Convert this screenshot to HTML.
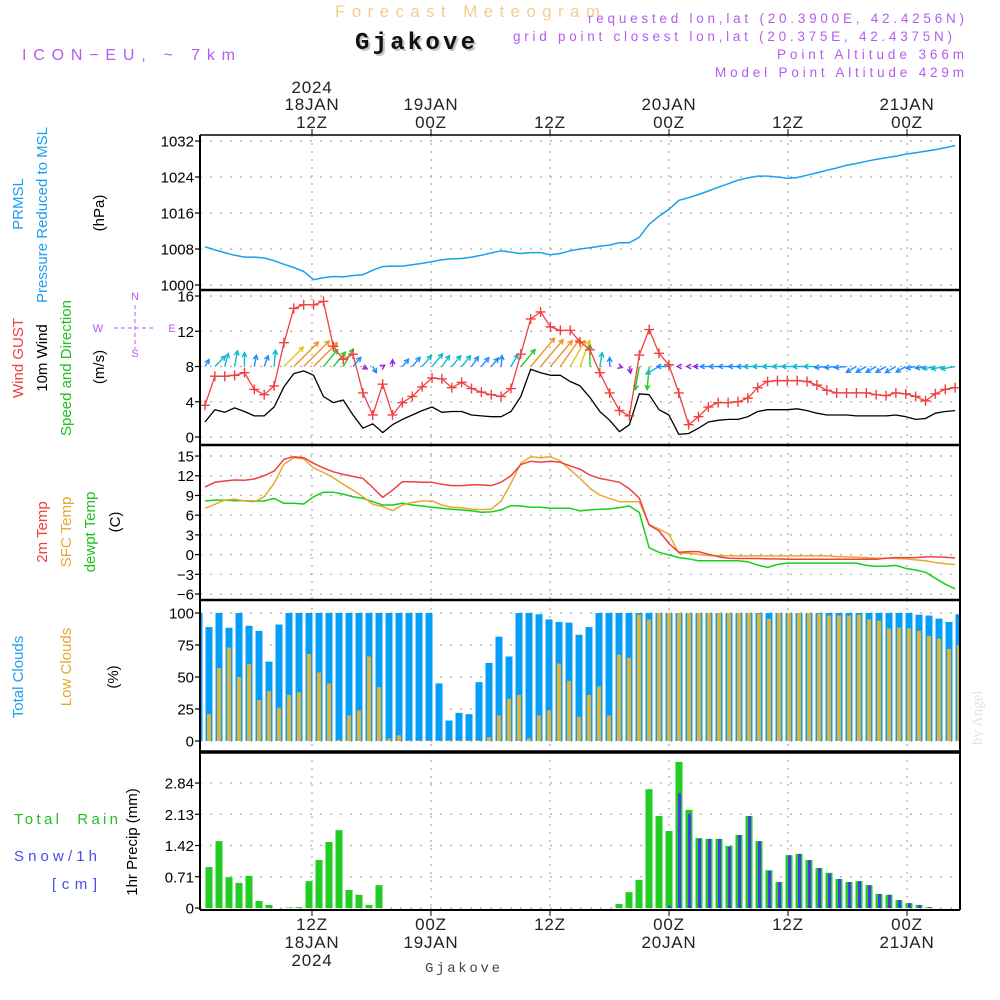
<!DOCTYPE html>
<html><head><meta charset="utf-8"><title>Meteogram Gjakove</title>
<style>
html,body{margin:0;padding:0;background:#fff;}
svg{display:block;font-family:"Liberation Sans",sans-serif;}
</style></head>
<body>
<svg id="chart" width="1000" height="1000" viewBox="0 0 1000 1000" xmlns="http://www.w3.org/2000/svg">
<rect x="0" y="0" width="1000" height="1000" fill="#fff"/>
<text x="335" y="17" font-size="17" fill="#f3cf8f" textLength="265" lengthAdjust="spacing">Forecast Meteogram</text>
<text x="357" y="51" font-family="Liberation Mono, monospace" font-weight="bold" font-size="24" fill="#b9cdb9" textLength="120" lengthAdjust="spacing">Gjakove</text>
<text x="355" y="49" font-family="Liberation Mono, monospace" font-weight="bold" font-size="24" fill="#111" textLength="120" lengthAdjust="spacing">Gjakove</text>
<text x="22" y="60" font-size="16" fill="#b45cf0" textLength="213" lengthAdjust="spacing">ICON−EU, ~ 7km</text>
<g font-size="13.5" fill="#b45cf0">
<text x="588" y="23" textLength="376" lengthAdjust="spacing">requested lon,lat (20.3900E, 42.4256N)</text>
<text x="513" y="41" textLength="439" lengthAdjust="spacing">grid point closest lon,lat (20.375E, 42.4375N)</text>
<text x="777" y="59" textLength="187" lengthAdjust="spacing">Point Altitude 366m</text>
<text x="715" y="77" textLength="249" lengthAdjust="spacing">Model Point Altitude 429m</text>
</g>
<g font-size="15">
<text transform="translate(23,204) rotate(-90)" text-anchor="middle" fill="#1aa0f0">PRMSL</text>
<text transform="translate(47,215) rotate(-90)" text-anchor="middle" fill="#1aa0f0">Pressure Reduced to MSL</text>
<text transform="translate(104,213) rotate(-90)" text-anchor="middle" fill="#000">(hPa)</text>
<text transform="translate(23,358) rotate(-90)" text-anchor="middle" fill="#f04040">Wind GUST</text>
<text transform="translate(47,358) rotate(-90)" text-anchor="middle" fill="#000">10m Wind</text>
<text transform="translate(71,368) rotate(-90)" text-anchor="middle" fill="#22c022">Speed and Direction</text>
<text transform="translate(104,367) rotate(-90)" text-anchor="middle" fill="#000">(m/s)</text>
<text transform="translate(47,532) rotate(-90)" text-anchor="middle" fill="#f04040">2m Temp</text>
<text transform="translate(71,532) rotate(-90)" text-anchor="middle" fill="#e8a830">SFC Temp</text>
<text transform="translate(95,532) rotate(-90)" text-anchor="middle" fill="#22c022">dewpt Temp</text>
<text transform="translate(120,522) rotate(-90)" text-anchor="middle" fill="#000">(C)</text>
<text transform="translate(23,677) rotate(-90)" text-anchor="middle" fill="#1aa0f0">Total Clouds</text>
<text transform="translate(71,667) rotate(-90)" text-anchor="middle" fill="#e8a830">Low Clouds</text>
<text transform="translate(118,677) rotate(-90)" text-anchor="middle" fill="#000">(%)</text>
<text transform="translate(137,842) rotate(-90)" text-anchor="middle" fill="#000">1hr Precip (mm)</text>
<text x="14" y="824" fill="#22c022" textLength="104" lengthAdjust="spacing" xml:space="preserve">Total  Rain</text>
<text x="14" y="861" fill="#4a4af0" textLength="83" lengthAdjust="spacing">Snow/1h</text>
<text x="52" y="889" fill="#4a4af0" textLength="45" lengthAdjust="spacing">[cm]</text>
</g>
<g fill="#b45cf0" font-size="11" stroke="none">
<text x="135" y="300" text-anchor="middle">N</text>
<text x="98" y="332" text-anchor="middle">W</text>
<text x="172" y="332" text-anchor="middle">E</text>
<text x="135" y="357" text-anchor="middle">S</text>
<line x1="135" y1="305" x2="135" y2="349" stroke="#b45cf0" stroke-dasharray="4,3"/>
<line x1="114" y1="328" x2="156" y2="328" stroke="#b45cf0" stroke-dasharray="4,3"/>
</g>
<text transform="translate(982,745) rotate(-90)" font-family="Liberation Serif, serif" font-size="15" fill="#e2e2e2">by Angel</text>
<text x="425" y="972" font-family="Liberation Mono, monospace" font-size="14" fill="#444" textLength="75" lengthAdjust="spacing">Gjakove</text>
<g id="plot"></g>
</svg>
<script>
// ---- data (hourly, from 01Z 18 JAN 2024) ----
const gridHours = [12, 24, 36, 48, 60, 72];
const topTimeLabels = ["12Z", "00Z", "12Z", "00Z", "12Z", "00Z"];
const topDateLabels = ["18JAN", "19JAN", "", "20JAN", "", "21JAN"];
const yearLabels = ["2024", "", "", "", "", ""];
const pressureTicks = [1000, 1008, 1016, 1024, 1032];
const windTicks = [0, 4, 8, 12, 16];
const tempTicks = [-6, -3, 0, 3, 6, 9, 12, 15];
const cloudTicks = [0, 25, 50, 75, 100];
const precipTicks = [0, 0.71, 1.42, 2.13, 2.84];

const pressure = [1008.5,1007.8,1007.2,1006.6,1006.2,1006.2,1006.0,1005.4,1004.6,1003.9,1003.0,1001.2,1001.6,1001.9,1001.8,1002.1,1002.3,1003.3,1004.1,1004.2,1004.2,1004.5,1004.8,1005.2,1005.6,1005.8,1005.9,1006.2,1006.6,1007.1,1007.6,1007.3,1007.0,1007.2,1007.2,1006.7,1007.0,1007.6,1008.0,1008.3,1008.6,1008.9,1009.4,1009.4,1010.6,1013.5,1015.3,1016.8,1018.8,1019.4,1020.1,1020.9,1021.7,1022.5,1023.3,1023.8,1024.2,1024.2,1024.0,1023.7,1023.9,1024.4,1024.9,1025.5,1026.0,1026.6,1027.0,1027.5,1027.9,1028.3,1028.6,1029.1,1029.4,1029.7,1030.1,1030.5,1031.0];
const windGust = [3.6,6.9,6.9,7.0,7.3,5.4,4.8,5.8,10.7,14.6,15.0,15.0,15.4,10.3,8.8,9.4,5.0,2.5,6.0,2.5,3.9,4.6,5.7,6.7,6.6,5.6,6.2,5.5,5.1,4.8,4.6,5.5,9.4,13.4,14.2,12.5,12.1,12.1,10.8,9.9,7.3,5.0,3.0,2.4,9.3,12.2,9.5,8.2,5.0,1.4,2.3,3.4,3.9,3.9,4.0,4.4,5.6,6.3,6.4,6.4,6.4,6.3,5.9,5.3,5.0,5.0,5.0,5.0,4.8,4.7,5.0,4.9,4.6,4.1,4.9,5.4,5.6];
const wind10m = [1.7,3.1,2.8,3.3,2.9,2.4,2.4,3.4,5.7,7.2,7.5,7.0,4.6,3.9,4.2,2.5,1.0,1.5,0.5,1.4,2.0,2.5,3.0,3.4,2.8,2.9,2.9,2.5,2.4,2.3,2.3,2.9,4.6,7.7,7.3,7.0,7.0,6.3,5.8,4.5,2.9,1.9,0.6,1.4,4.9,4.8,3.1,2.5,0.3,0.4,1.0,1.7,1.9,2.0,2.0,2.3,2.9,3.1,3.1,3.1,3.2,3.0,2.7,2.5,2.5,2.5,2.4,2.4,2.4,2.4,2.5,2.3,2.0,2.1,2.7,2.9,3.0];
const windDir = [30,45,15,10,0,10,20,5,45,45,45,45,40,40,30,40,120,150,60,0,40,40,40,40,35,40,40,35,40,40,5,30,40,40,40,40,35,30,20,0,10,0,110,170,190,185,240,270,270,270,270,270,270,270,270,270,270,270,270,270,270,270,270,265,265,265,240,240,240,240,240,240,260,260,260,260,260];
const temp2m = [10.3,11.0,11.2,11.35,11.3,11.5,12.0,12.7,14.5,14.9,14.75,13.9,13.2,12.6,12.2,11.9,11.6,10.2,8.7,9.8,11.1,11.1,11.0,11.0,10.7,10.5,10.5,10.6,10.6,10.5,11.0,12.0,13.7,14.2,14.05,14.2,14.05,13.5,13.0,12.1,11.6,11.3,11.0,10.0,8.6,4.5,3.6,1.7,0.35,0.45,0.45,0.05,-0.3,-0.55,-0.6,-0.6,-0.6,-0.65,-0.65,-0.7,-0.7,-0.7,-0.7,-0.7,-0.7,-0.7,-0.7,-0.7,-0.7,-0.55,-0.45,-0.45,-0.45,-0.35,-0.35,-0.4,-0.5];
const tempSfc = [7.05,7.65,8.3,8.45,8.15,8.05,8.8,10.85,13.75,14.75,14.55,13.2,12.5,11.7,10.7,9.8,8.8,7.65,7.3,6.7,7.55,7.95,8.15,8.15,7.55,7.2,7.15,6.9,6.85,6.9,8.15,10.85,13.9,14.9,14.75,14.9,14.25,12.9,11.6,10.1,9.05,8.55,8.05,8.05,8.05,4.6,3.9,3.1,0.2,0.2,0.05,-0.15,-0.15,-0.2,-0.2,-0.2,-0.2,-0.2,-0.2,-0.2,-0.2,-0.2,-0.2,-0.2,-0.3,-0.35,-0.4,-0.45,-0.55,-0.55,-0.6,-0.65,-0.8,-0.95,-1.2,-1.4,-1.5];
const dewpoint = [8.15,8.3,8.3,8.2,8.2,8.15,8.15,8.55,7.8,7.8,7.7,8.8,9.5,9.5,9.2,8.8,8.55,8.05,7.55,7.55,7.8,7.55,7.4,7.2,7.05,6.9,6.8,6.65,6.45,6.5,6.8,7.45,7.4,7.2,7.2,7.05,7.05,7.05,6.65,6.8,6.9,6.95,7.15,7.4,6.4,1.05,0.35,-0.05,-0.45,-0.65,-0.95,-0.95,-0.95,-0.95,-0.95,-1.1,-1.6,-1.95,-1.5,-1.3,-1.3,-1.3,-1.3,-1.3,-1.3,-1.3,-1.3,-1.65,-1.8,-1.75,-1.65,-2.1,-2.35,-2.7,-3.6,-4.5,-5.2];
const totalClouds = [100,89,100,88.5,100,90,86,62,91,100,100,100,100,100,100,100,100,100,100,100,100,100,100,100,45,16,22,21,46,61,81.5,66,100,100,99,95,93,92.5,83,89,100,100,100,100,100,100,100,100,100,100,100,100,100,100,100,100,100,100,100,100,100,100,100,100,100,100,100,100,100,100,100,100,98.7,98,95.6,93,99];
const lowClouds = [55,21,57,73,50,60,32,39,26,36,38,68,53.5,45,1,20,24,66,42,2,4.5,0.5,0.5,0.5,0.5,0.5,0.5,0.5,0.5,3,20,33,36,2,20,24,60.5,47,19,36,42.6,20,67.5,65,98.7,95,100,100,100,100,100,100,100,100,100,100,99.5,95.6,100,100,100,100,99.5,98,98,98,98.7,95,94,88,88.6,88,86,82,80,72,75];
const totalPrecip = [0,0.93,1.52,0.7,0.57,0.73,0.16,0.07,0,0.01,0.02,0.61,1.09,1.5,1.77,0.41,0.3,0.07,0.52,0,0,0,0,0,0,0,0,0,0,0,0,0,0,0,0,0,0,0,0,0,0,0,0.09,0.36,0.64,2.7,2.09,1.75,3.32,2.23,1.59,1.57,1.57,1.41,1.66,2.09,1.52,0.86,0.59,1.2,1.23,1.09,0.91,0.8,0.66,0.59,0.61,0.52,0.32,0.3,0.18,0.11,0.07,0.02,0,0,0];
const snow = [0,0,0,0,0,0,0,0,0,0,0,0,0,0,0,0,0,0,0,0,0,0,0,0,0,0,0,0,0,0,0,0,0,0,0,0,0,0,0,0,0,0,0,0,0,0,0,0.05,2.61,2.14,1.57,1.57,1.57,1.39,1.66,2.09,1.52,0.84,0.59,1.2,1.23,1.09,0.91,0.78,0.66,0.59,0.61,0.52,0.32,0.3,0.18,0.11,0.07,0.02,0,0,0];

// ---- scales ----
const X0 = 200, X1 = 960;
function xTime(h) { return 312 + (h - 12) * 9.917; }
function xLine(i) { return 205 + i * 9.87; }
function xBar(i) { return 199 + i * 10; }
function yP(p) { return 285 - (p - 1000) * 4.5; }
function yW(v) { return 437 - v * 8.81; }
function yT(t) { return 554.6 - t * 6.571; }
function yC(c) { return 741 - c * 1.28; }
function yR(r) { return 908 - r * 44.0; }

const NS = "http://www.w3.org/2000/svg";
const plot = document.getElementById("plot");
function mk(tag, attrs, parent) {
  const e = document.createElementNS(NS, tag);
  for (const k in attrs) e.setAttribute(k, attrs[k]);
  (parent || plot).appendChild(e);
  return e;
}

const defs = mk("defs", {});
const cp = mk("clipPath", { id: "pclip" }, defs);
mk("rect", { x: X0, y: 135, width: X1 - X0, height: 775 }, cp);

const panels = [
  { name: "pressure", top: 135, bot: 290, ticks: pressureTicks, f: yP, fmt: v => String(v) },
  { name: "wind", top: 290, bot: 445, ticks: windTicks, f: yW, fmt: v => String(v) },
  { name: "temperature", top: 445, bot: 600, ticks: tempTicks, f: yT, fmt: v => (v < 0 ? "−" + Math.abs(v) : String(v)) },
  { name: "clouds", top: 600, bot: 752, ticks: cloudTicks, f: yC, fmt: v => String(v) },
  { name: "precip", top: 752, bot: 910, ticks: precipTicks, f: yR, fmt: v => (v === 0 ? "0" : v.toFixed(2)) }
];

panels.forEach(p => {
  const g = mk("g", {});
  
  
  p.ticks.forEach(v => {
    const y = p.f(v);
    const gl = mk("line", { x1: X0, x2: X1, y1: y, y2: y, stroke: "#aaa", "stroke-width": 1.2, "stroke-dasharray": "2,8" }, g);
    
    
    mk("line", { x1: X0 - 5, x2: X0, y1: y, y2: y, stroke: "#000", "stroke-width": 1.2 }, g);
    const t = mk("text", { x: X0 - 6, y: y + 5.5, "text-anchor": "end", "font-size": 15, fill: "#000" }, g);
    t.textContent = p.fmt(v);
    
    
  });
  gridHours.forEach(h => {
    const x = xTime(h);
    mk("line", { x1: x, x2: x, y1: p.top, y2: p.bot, stroke: "#aaa", "stroke-width": 1.2, "stroke-dasharray": "2,6" }, g);
  });
});

gridHours.forEach((h, i) => {
  const x = xTime(h);
  mk("line", { x1: x, x2: x, y1: 129, y2: 135, stroke: "#000" });
  mk("line", { x1: x, x2: x, y1: 910, y2: 916, stroke: "#000" });
  const rows = [[yearLabels[i], 93, 966], [topDateLabels[i], 110, 948], [topTimeLabels[i], 128, 930]];
  rows.forEach(r => {
    if (!r[0]) return;
    const tt = mk("text", { x: x, y: r[1], "text-anchor": "middle", "font-size": 17, fill: "#222", "letter-spacing": 0.8 });
    tt.textContent = r[0];
    
    
    const bt = mk("text", { x: x, y: r[2], "text-anchor": "middle", "font-size": 17, fill: "#222", "letter-spacing": 0.8 });
    bt.textContent = r[0];
    
    
  });
});

const data = mk("g", { "clip-path": "url(#pclip)" });

function line(arr, f, color, name, w) {
  let d = "";
  arr.forEach((v, i) => { d += (i ? "L" : "M") + xLine(i).toFixed(1) + "," + f(v).toFixed(1); });
  const p = mk("path", { d: d, fill: "none", stroke: color, "stroke-width": w || 1.4, "stroke-linejoin": "round" }, data);
  
  
  return p;
}

line(pressure, yP, "#1aa0f0", "pressure-line", 1.5);

function arrowColor(s) {
  if (s < 1.5) return "#9a20e0";
  if (s < 2.6) return "#1e8cff";
  if (s < 3.6) return "#10b8d0";
  if (s < 5.2) return "#22cc22";
  if (s < 6.5) return "#e0c820";
  return "#f09020";
}
windDir.forEach((dir, i) => {
  const s = wind10m[i];
  const L = 4.8 * s;
  const a = dir * Math.PI / 180;
  const x0 = xLine(i), y0 = yW(8);
  const x1 = x0 + L * Math.sin(a), y1 = y0 - L * Math.cos(a);
  const c = arrowColor(s);
  const g = mk("g", { stroke: c, "stroke-width": 1.4, fill: "none" }, data);
  
  
  mk("line", { x1: x0, y1: y0, x2: x1, y2: y1 }, g);
  const h = 5, sp = 0.5;
  const back = a + Math.PI;
  mk("path", { d: "M" + (x1 + h * Math.sin(back - sp)) + "," + (y1 - h * Math.cos(back - sp)) + "L" + x1 + "," + y1 + "L" + (x1 + h * Math.sin(back + sp)) + "," + (y1 - h * Math.cos(back + sp)) }, g);
});

line(wind10m, yW, "#000", "wind-10m-line", 1.3);
line(windGust, yW, "#f04040", "wind-gust-line", 1.3);
windGust.forEach((v, i) => {
  const x = xLine(i), y = yW(v);
  const m = mk("path", { d: "M" + (x - 5) + "," + y + "H" + (x + 5) + "M" + x + "," + (y - 5) + "V" + (y + 5), stroke: "#f04040", "stroke-width": 1.4 }, data);
  
  
});

line(dewpoint, yT, "#18d018", "dewpoint-line", 1.5);
line(tempSfc, yT, "#e8a830", "sfc-temp-line", 1.5);
line(temp2m, yT, "#f04040", "temp-2m-line", 1.5);

totalClouds.forEach((v, i) => {
  const x = xBar(i);
  const b = mk("rect", { x: x - 3.5, y: yC(v), width: 7, height: yC(0) - yC(v), fill: "#049ef8" }, data);
  
  
  const lv = lowClouds[i];
  const o = mk("rect", { x: x - 2, y: yC(lv), width: 4, height: yC(0) - yC(lv), fill: "#e4b030" }, data);
  
  
});

totalPrecip.forEach((v, i) => {
  const x = xBar(i);
  if (v > 0) {
    const b = mk("rect", { x: x - 3.5, y: yR(v), width: 7, height: yR(0) - yR(v), fill: "#22cc22" }, data);
    
    
  }
  const sv = snow[i];
  if (sv > 0) {
    const s = mk("rect", { x: x - 1, y: yR(sv), width: 3, height: yR(0) - yR(sv), fill: "#4040f0" }, data);
    
    
  }
});

const fr = mk("g", { stroke: "#000", fill: "none" });


mk("line", { x1: X0, x2: X1, y1: 135, y2: 135, "stroke-width": 1.5 }, fr);
mk("line", { x1: X0, x2: X1, y1: 290, y2: 290, "stroke-width": 2.5 }, fr);
mk("line", { x1: X0, x2: X1, y1: 445, y2: 445, "stroke-width": 2.5 }, fr);
mk("line", { x1: X0, x2: X1, y1: 600, y2: 600, "stroke-width": 2.5 }, fr);
mk("line", { x1: X0, x2: X1, y1: 752, y2: 752, "stroke-width": 3.5 }, fr);
mk("line", { x1: X0, x2: X1, y1: 910, y2: 910, "stroke-width": 2 }, fr);
mk("line", { x1: X0, x2: X0, y1: 135, y2: 910, "stroke-width": 2 }, fr);
mk("line", { x1: X1, x2: X1, y1: 135, y2: 910, "stroke-width": 2 }, fr);
</script>
</body></html>
